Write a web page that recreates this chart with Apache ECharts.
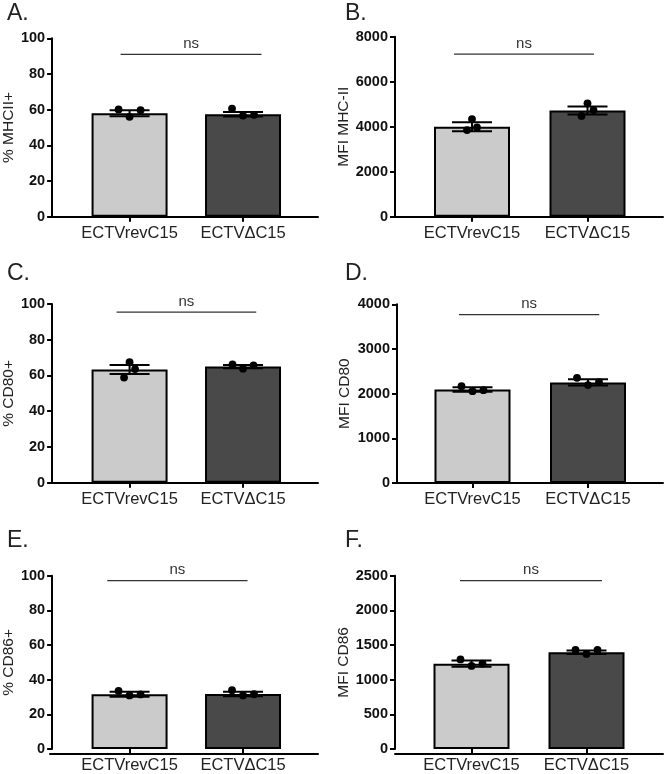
<!DOCTYPE html>
<html><head><meta charset="utf-8">
<script src="https://cdn.jsdelivr.net/npm/echarts@6/dist/echarts.min.js"></script>
<style>html,body{margin:0;padding:0;background:#fff}#c{width:665px;height:774px}</style>
</head><body><div id="c"></div>
<script>
// ---- data ----
const categories = ['ECTVrevC15', 'ECTVΔC15'];
const panelLetters = ['A.', 'B.', 'C.', 'D.', 'E.', 'F.'];
const yNames = ['% MHCII+', 'MFI MHC-II', '% CD80+', 'MFI CD80', '% CD86+', 'MFI CD86'];
const yMax = [100, 8000, 100, 4000, 100, 2500];
const yStep = [20, 2000, 20, 1000, 20, 500];
const meansRev = [58.0, 4000, 63.3, 2095, 31.6, 1230];
const meansDel = [57.4, 4720, 65.0, 2250, 31.8, 1395];
const semRev = [1.7, 200, 2.5, 50, 1.4, 45];
const semDel = [1.3, 180, 0.9, 70, 1.3, 25];
const pointsRev = [[60.1, 56.0, 59.7], [3850, 4340, 3970], [58.8, 67.4, 63.6], [2168, 2056, 2078], [33.5, 30.9, 31.5], [1292, 1199, 1231]];
const pointsDel = [[60.6, 56.7, 57.1], [4480, 5040, 4740], [66.2, 63.8, 65.7], [2355, 2191, 2258], [33.9, 30.9, 31.6], [1428, 1372, 1428]];
const nsLevel = [91, 7230, 95.4, 3770, 97.2, 2430];
const nsLabel = 'ns';

// ---- layout (pixels) ----
const layout = [
  {axisX: 50,  right: 318, top: 38.3,  bottom: 216.7, cL: 128,   cR: 242.5, jit: [11, 11],  ns: [-9, 18.5],    gap: 34, letter: [7, 2.5]},
  {axisX: 395, right: 663, top: 36.7,  bottom: 216.7, cL: 472,   cR: 587.5, jit: [5, 6],    ns: [-18, 6.5],    gap: 43, letter: [345, 2.5]},
  {axisX: 50,  right: 318, top: 304,   bottom: 482.7, cL: 128,   cR: 242.5, jit: [5.5, 10.5], ns: [-13, 13.2], gap: 34, letter: [7, 262.5]},
  {axisX: 397, right: 663, top: 304.3, bottom: 483,   cL: 472.5, cR: 588,   jit: [11, 11],  ns: [-13.5, 11.3], gap: 44, letter: [345, 262.5]},
  {axisX: 50,  right: 318, top: 575.7, bottom: 753.7, cL: 128,   cR: 242.5, jit: [11, 11],  ns: [-22.3, 4.5],  gap: 34, letter: [7, 529.5]},
  {axisX: 395, right: 663, top: 575.7, bottom: 753.7, cL: 471.5, cR: 586.5, jit: [11, 11],  ns: [-11.5, 15.5], gap: 42, letter: [345, 529.5]}
];

const FONT = 'Liberation Sans, Arial, sans-serif';
const barColors = ['#cbcbcb', '#494949'];
const chart = echarts.init(document.getElementById('c'));
const option = {
  animation: false, backgroundColor: '#fff',
  title: [], grid: [], xAxis: [], yAxis: [], series: []
};

layout.forEach((L, p) => {
  const bw = L.cR - L.cL;
  const gLeft = L.cL - bw / 2;
  const h = L.bottom - L.top;
  option.title.push({text: panelLetters[p], left: L.letter[0], top: L.letter[1], padding: 0,
    textStyle: {fontSize: 23, fontWeight: 'normal', color: '#222', fontFamily: FONT}});
  // frame grid (x axis line spanning full width)
  const fi = option.grid.length;
  option.grid.push({left: L.axisX, top: L.top, width: L.right - L.axisX, height: h, containLabel: false});
  option.xAxis.push({gridIndex: fi, type: 'value', min: 0, max: 1,
    axisLine: {show: true, lineStyle: {color: '#000', width: 2}}, axisTick: {show: false},
    axisLabel: {show: false}, splitLine: {show: false}});
  option.yAxis.push({gridIndex: fi, type: 'value', min: 0, max: 1, show: false});
  // bar grid
  const bi = option.grid.length;
  option.grid.push({left: gLeft, top: L.top, width: 2 * bw, height: h, containLabel: false});
  option.xAxis.push({gridIndex: bi, type: 'category', data: categories,
    axisLine: {show: false},
    axisTick: {show: true, alignWithLabel: true, length: 5, lineStyle: {color: '#000', width: 2}},
    axisLabel: {interval: 0, hideOverlap: false, fontSize: 16.5, color: '#222', fontFamily: FONT, margin: 8},
    splitLine: {show: false}});
  option.yAxis.push({gridIndex: bi, type: 'value', min: 0, max: yMax[p], interval: yStep[p],
    offset: gLeft - L.axisX,
    name: yNames[p], nameLocation: 'middle', nameGap: L.gap, nameRotate: 90,
    nameTextStyle: {fontSize: 15.5, color: '#222', fontFamily: FONT},
    axisLine: {show: true, lineStyle: {color: '#000', width: 2}},
    axisTick: {show: true, length: 5, lineStyle: {color: '#000', width: 2}},
    axisLabel: {formatter: v => String(v), fontSize: 14.5, fontWeight: 'bold', color: '#111', fontFamily: FONT, margin: 7},
    splitLine: {show: false}});
  const means = [meansRev[p], meansDel[p]];
  const sems = [semRev[p], semDel[p]];
  option.series.push({type: 'bar', xAxisIndex: bi, yAxisIndex: bi, barWidth: 76, z: 2,
    data: means.map((m, i) => ({value: m, itemStyle: {color: barColors[i], borderColor: '#000', borderWidth: 2}}))});
  // error bars (mean ± SEM)
  option.series.push({type: 'custom', xAxisIndex: bi, yAxisIndex: bi, z: 4,
    data: means.map((m, i) => [i, m, sems[i]]),
    renderItem: (params, api) => {
      const x = api.value(0), m = api.value(1), s = api.value(2);
      const t = api.coord([x, m + s]), b = api.coord([x, m - s]);
      const hw = 20, st = {stroke: '#000', lineWidth: 2};
      return {type: 'group', children: [
        {type: 'line', shape: {x1: t[0], y1: t[1], x2: b[0], y2: b[1]}, style: st},
        {type: 'line', shape: {x1: t[0] - hw, y1: t[1], x2: t[0] + hw, y2: t[1]}, style: st},
        {type: 'line', shape: {x1: b[0] - hw, y1: b[1], x2: b[0] + hw, y2: b[1]}, style: st}
      ]};
    }});
  // individual points
  const pts = [];
  [pointsRev[p], pointsDel[p]].forEach((arr, g) => arr.forEach((v, k) => pts.push([g, v, k])));
  option.series.push({type: 'custom', xAxisIndex: bi, yAxisIndex: bi, z: 5, data: pts,
    renderItem: (params, api) => {
      const g = api.value(0), v = api.value(1), k = api.value(2);
      const c = api.coord([g, v]);
      return {type: 'circle', shape: {cx: c[0] + (k - 1) * L.jit[g], cy: c[1], r: 3.9}, style: {fill: '#000'}};
    }});
  // ns annotation
  option.series.push({type: 'custom', xAxisIndex: bi, yAxisIndex: bi, z: 5, data: [[0, nsLevel[p]]],
    renderItem: (params, api) => {
      const y = api.value(1);
      const a = api.coord([0, y]), b = api.coord([1, y]);
      const x1 = a[0] + L.ns[0], x2 = b[0] + L.ns[1];
      return {type: 'group', children: [
        {type: 'line', shape: {x1: x1, y1: a[1], x2: x2, y2: a[1]}, style: {stroke: '#333', lineWidth: 1.3}},
        {type: 'text', x: (x1 + x2) / 2, y: a[1] - 3, style: {text: nsLabel, fontSize: 15, fontFamily: FONT, fill: '#333', align: 'center', verticalAlign: 'bottom'}}
      ]};
    }});
});

chart.setOption(option);
</script>
</body></html>
